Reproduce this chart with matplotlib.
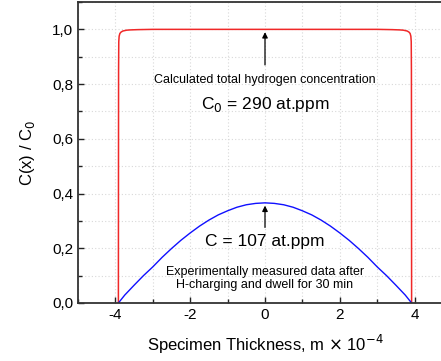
import matplotlib
matplotlib.use("Agg")
import matplotlib.pyplot as plt
from matplotlib.ticker import MultipleLocator, FuncFormatter

plt.rcParams["font.family"] = ["Liberation Sans", "DejaVu Sans"]

# calculated total hydrogen profile (red)
calc_x = [-3.92, -3.918, -3.915, -3.91, -3.90, -3.88, -3.85, -3.80, -3.70, -3.60, -3.40, -3.0,
          0.0,
          3.0, 3.40, 3.60, 3.70, 3.80, 3.85, 3.88, 3.90, 3.91, 3.915, 3.918, 3.92]
calc_y = [0.0, 0.40, 0.85, 0.955, 0.975, 0.985, 0.990, 0.994, 0.997, 0.998, 0.999, 1.0,
          1.0,
          1.0, 0.999, 0.998, 0.997, 0.994, 0.990, 0.985, 0.975, 0.955, 0.85, 0.40, 0.0]

# measured profile after charging and dwell (blue)
meas_x = [-3.92, -3.75, -3.5, -3.25, -3.0, -2.75, -2.5, -2.25, -2.0, -1.75, -1.5, -1.25,
          -1.0, -0.75, -0.5, -0.25, 0.0, 0.25, 0.5, 0.75, 1.0, 1.25, 1.5, 1.75, 2.0,
          2.25, 2.5, 2.75, 3.0, 3.25, 3.5, 3.75, 3.92]
meas_y = [0.0, 0.029, 0.065, 0.100, 0.132, 0.167, 0.199, 0.229, 0.256, 0.281, 0.303, 0.322,
          0.337, 0.350, 0.359, 0.364, 0.366, 0.364, 0.359, 0.350, 0.337, 0.322, 0.303, 0.281, 0.256,
          0.229, 0.199, 0.167, 0.132, 0.100, 0.065, 0.029, 0.0]

fig = plt.figure(figsize=(4.41, 3.61), dpi=100)
ax = fig.add_axes([78 / 441, 58 / 361, 374 / 441, 301 / 361])

ax.plot(calc_x, calc_y, color="#f02828", lw=1.1)
ax.plot(meas_x, meas_y, color="#1010ff", lw=1.0)

ax.set_xlim(-5, 5)
ax.set_ylim(0, 1.1)
ax.xaxis.set_major_locator(MultipleLocator(2))
ax.xaxis.set_minor_locator(MultipleLocator(1))
ax.yaxis.set_major_locator(MultipleLocator(0.2))
ax.yaxis.set_minor_locator(MultipleLocator(0.1))
ax.yaxis.set_major_formatter(FuncFormatter(lambda v, p: f"{v:.1f}".replace(".", ",")))
ax.xaxis.set_major_formatter(FuncFormatter(lambda v, p: f"{v:g}"))

ax.grid(which="both", color="#d8d8d8", linestyle=(0, (1, 2)), lw=0.8)
ax.set_axisbelow(True)
ax.tick_params(which="both", direction="in", top=False, right=False, colors="#222222",
               labelsize=11, labelcolor="black")
ax.tick_params(which="major", length=4, width=1)
ax.tick_params(which="minor", length=3, width=1)
for s in ax.spines.values():
    s.set_color("#333333")
    s.set_linewidth(1.3)

ax.set_xlabel("Specimen Thickness, m $\\times$ 10$^{-4}$", fontsize=12, labelpad=8)
ax.set_ylabel("C(x) / C$_0$", fontsize=12, labelpad=11)

arrow = dict(arrowstyle="-|>", color="black", lw=0.9, mutation_scale=8)
ax.annotate("", xy=(0, 1.0), xytext=(0, 0.86), arrowprops=arrow)
ax.annotate("", xy=(0, 0.366), xytext=(0, 0.266), arrowprops=arrow)

ax.text(0, 0.814, "Calculated total hydrogen concentration", ha="center", va="center", fontsize=9)
ax.text(0, 0.727, "C$_0$ = 290 at.ppm", ha="center", va="center", fontsize=12.5)
ax.text(0, 0.224, "C = 107 at.ppm", ha="center", va="center", fontsize=12.5)
ax.text(0, 0.09, "Experimentally measured data after\nH-charging and dwell for 30 min",
        ha="center", va="center", fontsize=9, linespacing=1.1)

fig.savefig("out.png", dpi=100)
